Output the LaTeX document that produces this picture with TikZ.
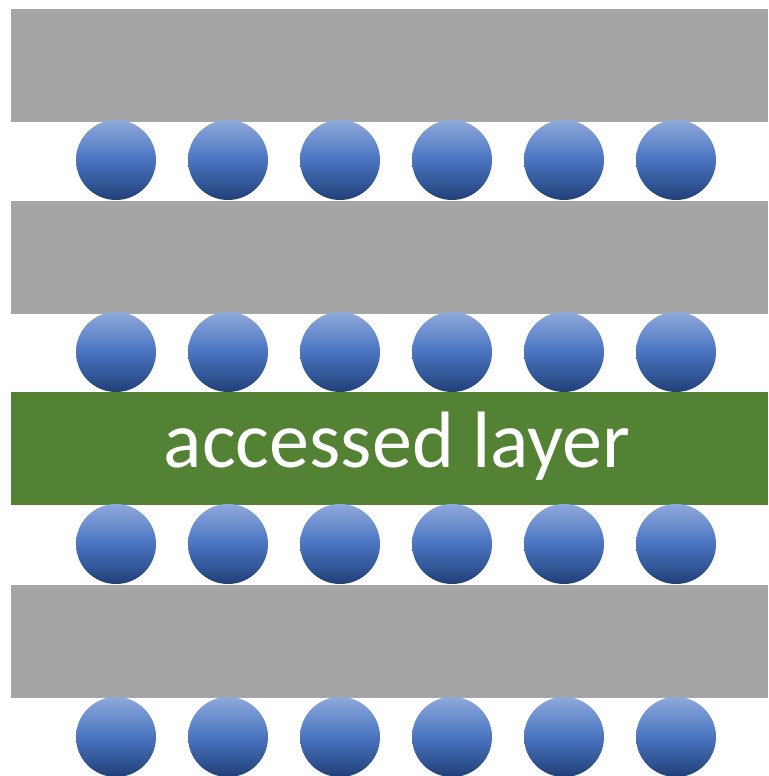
\documentclass[tikz,border=0pt]{standalone}
\usepackage{fontspec}
\setmainfont{Carlito}
\definecolor{barGray}{HTML}{A5A5A5}
\definecolor{barGreen}{HTML}{548235}
\definecolor{ballTop}{HTML}{8EA9DB}
\definecolor{ballMid}{HTML}{4A74C0}
\definecolor{ballBot}{HTML}{203F78}
\begin{document}
\begin{tikzpicture}[x=1pt,y=-1pt,
  bar/.style={fill=barGray,draw=none},
  ball/.style={circle,minimum size=80pt,inner sep=0pt,draw=none,
    top color=ballTop,bottom color=ballBot,middle color=ballMid}]
\useasboundingbox (0,0) rectangle (768,776);
\fill[white] (0,0) rectangle (768,776);
\node[bar,anchor=north west,minimum width=757pt,minimum height=113pt,inner sep=0pt] (b1) at (11,9) {};
\node[bar,anchor=north west,minimum width=757pt,minimum height=113pt,inner sep=0pt] (b2) at (11,201) {};
\node[fill=barGreen,anchor=north west,minimum width=757pt,minimum height=113pt,inner sep=0pt] (b3) at (11,392) {};
\node[bar,anchor=north west,minimum width=757pt,minimum height=113pt,inner sep=0pt] (b4) at (11,585) {};
\node[text=white,font=\fontsize{80}{90}\selectfont] (lbl) at (397,446) {accessed layer};
\foreach \r/\yy in {1/160,2/352,3/544,4/737}{
  \foreach \c/\xx in {1/116,2/228,3/340,4/452,5/564,6/676}{
    \node[ball] (c\r\c) at (\xx,\yy) {};
  }
}
\end{tikzpicture}
\end{document}
